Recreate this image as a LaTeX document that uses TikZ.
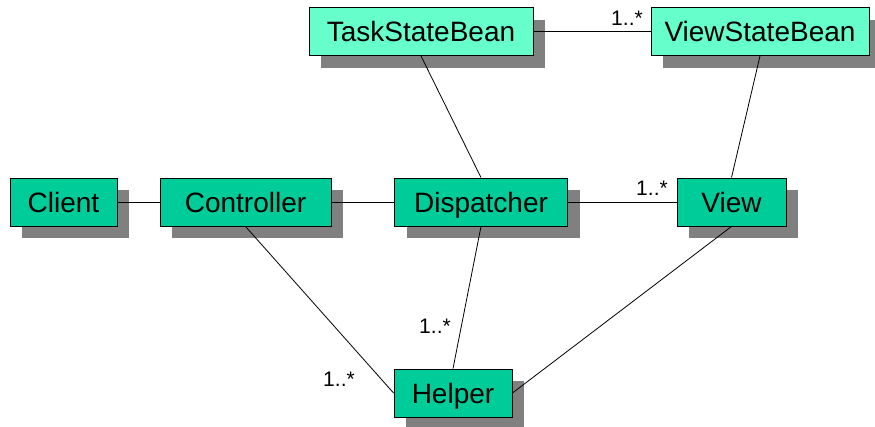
\documentclass[tikz,border=0pt]{standalone}
\usepackage{fontspec}
\setmainfont{Liberation Sans}
\usetikzlibrary{shadows}

\definecolor{clsgreen}{HTML}{00CC99}
\definecolor{beangreen}{HTML}{66FFCC}
\definecolor{shadowgray}{HTML}{808080}

\begin{document}
\begin{tikzpicture}[
  x=1pt, y=-1pt,
  cls/.style={rectangle, draw, line width=0.9pt, fill=clsgreen, minimum height=48pt, inner sep=0pt,
    text height=20pt, text depth=0pt, font=\fontsize{28}{32}\selectfont,
    drop shadow={shadow xshift=12pt, shadow yshift=-12pt, fill=shadowgray, opacity=1}},
  bean/.style={cls, fill=beangreen},
  mult/.style={inner sep=0pt, font=\fontsize{21}{24}\selectfont},
  assoc/.style={line width=0.8pt}
]
\useasboundingbox (0,0) rectangle (875,426);

% Top row - state beans
\node[bean, minimum width=224pt] (taskbean) at (421,31.5) {TaskStateBean};
\node[bean, minimum width=218pt] (viewbean) at (760,31.5) {ViewStateBean};

% Middle row
\node[cls, minimum width=107pt] (client) at (63.5,202) {Client};
\node[cls, minimum width=171pt] (controller) at (245.5,202) {Controller};
\node[cls, minimum width=173pt] (dispatcher) at (481,202) {Dispatcher};
\node[cls, minimum width=109pt] (view) at (731.5,202) {View};

% Bottom - helper
\node[cls, minimum width=118pt] (helper) at (453,393) {Helper};

% Associations
\draw[assoc] (taskbean) -- (viewbean);
\draw[assoc] (client) -- (controller);
\draw[assoc] (controller) -- (dispatcher);
\draw[assoc] (dispatcher) -- (view);
\draw[assoc] (taskbean.south) -- (dispatcher.north);
\draw[assoc] (viewbean.south) -- (view.north);
\draw[assoc] (controller.south) -- (helper.west);
\draw[assoc] (dispatcher.south) -- (helper.north);
\draw[assoc] (view.south) -- (helper.east);

% Multiplicities
\node[mult] (m-viewbean) at (627,18) {1..*};
\node[mult] (m-view) at (652,188) {1..*};
\node[mult] (m-helper-top) at (435,326) {1..*};
\node[mult] (m-helper-left) at (339,379) {1..*};

\end{tikzpicture}
\end{document}
